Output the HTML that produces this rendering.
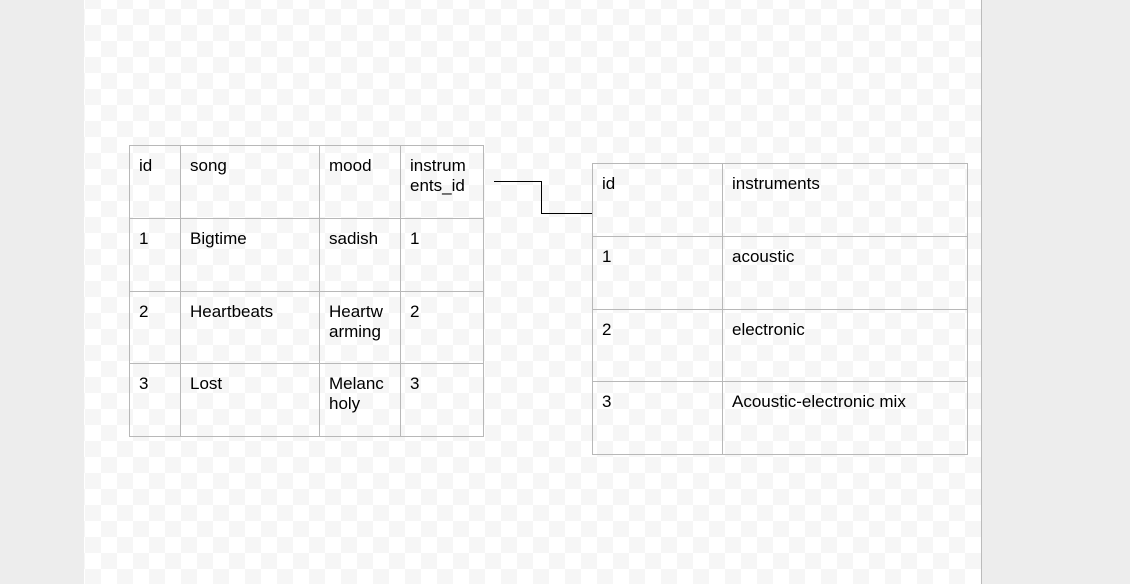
<!DOCTYPE html>
<html><head><style>
body{margin:0;width:1130px;height:584px;background:#ededed;position:relative;overflow:hidden;font-family:"Liberation Sans",Arial,sans-serif;}
#page{position:absolute;left:84px;top:0;width:897px;height:584px;border-right:1px solid #bbb;
background-color:#fff;
background-image:linear-gradient(45deg,#f6f6f6 25%,transparent 25%,transparent 75%,#f6f6f6 75%),linear-gradient(45deg,#f6f6f6 25%,transparent 25%,transparent 75%,#f6f6f6 75%);
background-size:32px 32px;background-position:1px 9px,17px 25px;}
table{position:absolute;border-collapse:collapse;font-size:17px;color:#000;}
td{border:1px solid #b8b8b8;vertical-align:top;padding:10px 4px 0 9px;line-height:20px;box-sizing:border-box;}
</style></head><body>
<div id="page"></div>
<table style="left:129px;top:145px;width:355px;">
<tr style="height:73px"><td style="width:51px">id</td><td style="width:139px">song</td><td style="width:81px">mood</td><td>instrum<br>ents_id</td></tr>
<tr style="height:73px"><td>1</td><td>Bigtime</td><td>sadish</td><td>1</td></tr>
<tr style="height:72px"><td>2</td><td>Heartbeats</td><td>Heartw<br>arming</td><td>2</td></tr>
<tr style="height:73px"><td>3</td><td>Lost</td><td>Melanc<br>holy</td><td>3</td></tr>
</table>
<table style="left:592px;top:163px;width:376px;">
<tr style="height:73px"><td style="width:130px">id</td><td>instruments</td></tr>
<tr style="height:73px"><td>1</td><td>acoustic</td></tr>
<tr style="height:72px"><td>2</td><td>electronic</td></tr>
<tr style="height:73px"><td>3</td><td>Acoustic-electronic mix</td></tr>
</table>
<svg style="position:absolute;left:0;top:0" width="1130" height="584">
<polyline points="494,181.5 541.5,181.5 541.5,213.5 592,213.5" fill="none" stroke="#000" stroke-width="1"/>
</svg>
</body></html>
